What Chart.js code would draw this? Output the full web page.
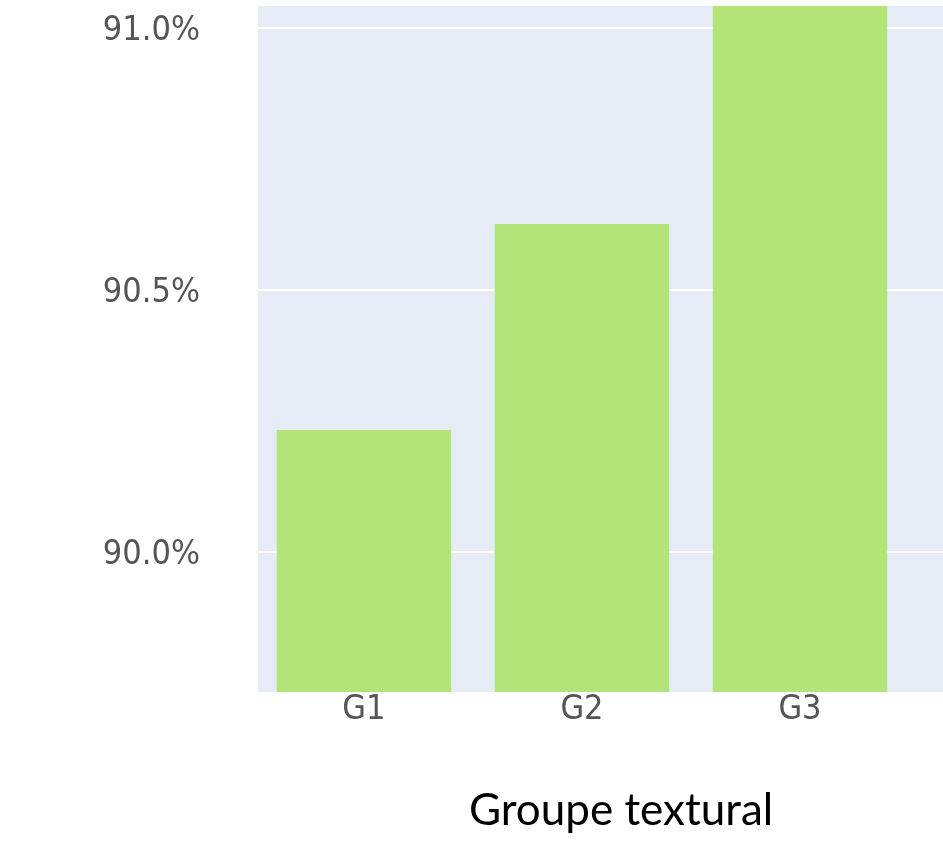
<!DOCTYPE html>
<html>
<head>
<meta charset="utf-8">
<script src="https://cdn.jsdelivr.net/npm/chart.js@4/dist/chart.umd.min.js"></script>
<style>
  html, body { margin: 0; padding: 0; background: #ffffff; }
  canvas { display: block; }
</style>
</head>
<body>
<canvas id="c" width="943" height="841"></canvas>
<script>
// ---- data ----
const categories = ['G1', 'G2', 'G3'];
const values = [90.233, 90.626, 91.06];
const yTickValues = [90.0, 90.5, 91.0];
const yRange = [89.733, 91.042];
const xTitle = 'Groupe textural';

const points = categories.map((c, i) => ({ x: i, y: values[i] }));

const bgPlugin = {
  id: 'plotBg',
  beforeDraw(chart) {
    const { ctx, chartArea: a } = chart;
    ctx.save();
    ctx.fillStyle = '#E5ECF6';
    ctx.fillRect(a.left, a.top, a.right - a.left, a.bottom - a.top);
    ctx.restore();
  }
};

const xTitlePlugin = {
  id: 'xTitle',
  afterDraw(chart) {
    const { ctx, chartArea: a } = chart;
    ctx.save();
    ctx.font = '44px Lato';
    ctx.fillStyle = '#000000';
    ctx.textAlign = 'center';
    ctx.textBaseline = 'alphabetic';
    ctx.fillText(xTitle, a.left + (a.right - a.left) * 0.53, 825);
    ctx.restore();
  }
};

new Chart(document.getElementById('c'), {
  type: 'bar',
  data: {
    datasets: [{
      data: points,
      backgroundColor: '#B3E47A',
      borderWidth: 0,
      barPercentage: 0.8,
      categoryPercentage: 1.0
    }]
  },
  options: {
    responsive: false,
    devicePixelRatio: 1,
    animation: false,
    layout: { padding: { top: 6, left: 0, right: 0, bottom: 0 } },
    plugins: { legend: { display: false }, tooltip: { enabled: false } },
    scales: {
      x: {
        type: 'linear',
        offset: false,
        min: -0.486,
        max: 2.656,
        grid: { display: false, drawTicks: false, offset: false },
        border: { display: false },
        afterBuildTicks(scale) { scale.ticks = categories.map((c, i) => ({ value: i })); },
        afterFit(scale) { scale.height = 149; scale.paddingLeft = 0; scale.paddingRight = 0; },
        ticks: {
          callback: (v) => categories[v] ?? '',
          font: { family: 'DejaVu Sans Condensed', size: 34 },
          color: '#555555',
          padding: -2,
          maxRotation: 0,
          autoSkip: false
        }
      },
      y: {
        min: yRange[0],
        max: yRange[1],
        grid: { color: '#FFFFFF', lineWidth: 2, drawTicks: false },
        border: { display: false },
        afterBuildTicks(scale) { scale.ticks = yTickValues.map(v => ({ value: v })); },
        afterFit(scale) { scale.width = 258; scale.paddingTop = 0; scale.paddingBottom = 0; },
        ticks: {
          callback: (v) => v.toFixed(1) + '%',
          font: { family: 'DejaVu Sans Condensed', size: 34 },
          color: '#555555',
          padding: 58,
          labelOffset: 3
        }
      }
    }
  },
  plugins: [bgPlugin, xTitlePlugin]
});
</script>
</body>
</html>
